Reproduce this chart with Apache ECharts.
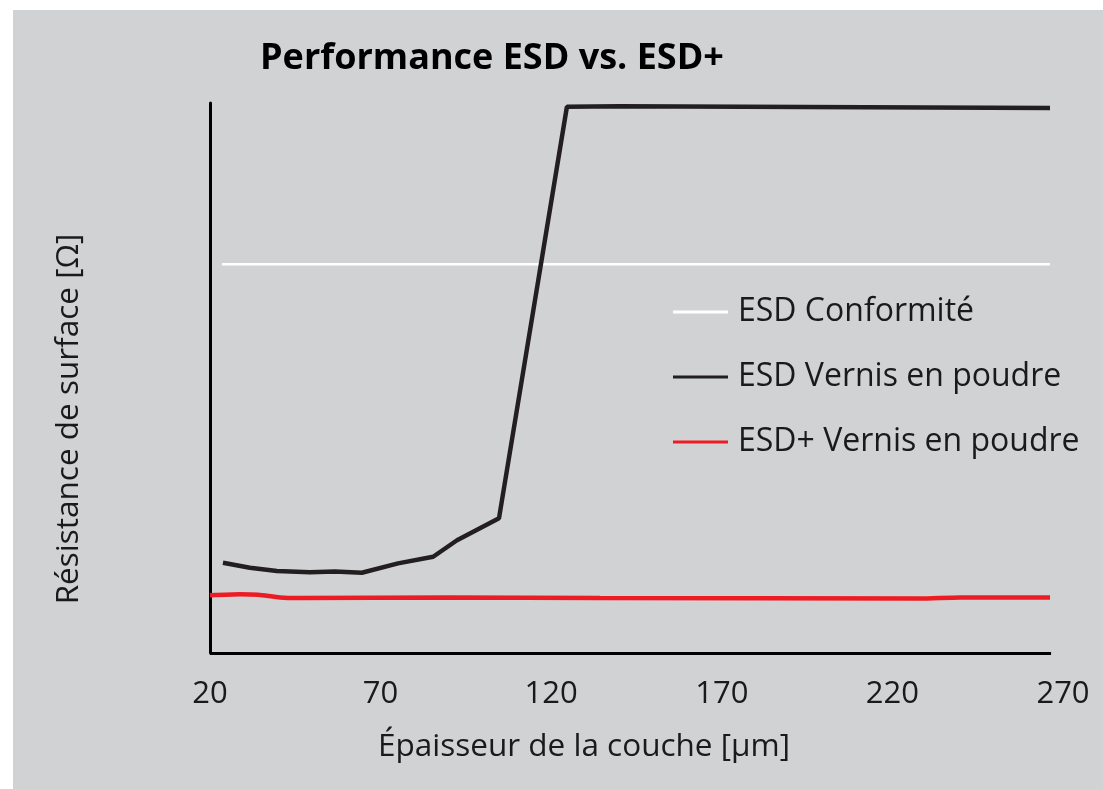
<!DOCTYPE html>
<html>
<head>
<meta charset="utf-8">
<script src="https://cdn.jsdelivr.net/npm/echarts@6/dist/echarts.min.js"></script>
<style>
  html, body { margin: 0; padding: 0; background: #ffffff; }
  #chart { position: absolute; left: 13px; top: 10px; width: 1090px; height: 779px; background: #d1d2d3; }
</style>
</head>
<body>
<div id="chart"></div>
<script>
// épaisseur [µm] / résistance (échelle relative, 0-100)
var seriesNames = ['ESD Conformité', 'ESD Vernis en poudre', 'ESD+ Vernis en poudre'];
var xTicks = [20, 70, 120, 170, 220, 270];

var conformX = [23.5, 266.2];
var conformY = [70.7, 70.7];

var esdX = [23.8, 31.7, 39.6, 49.3, 56.6, 64.5, 75.1, 85.4, 92.4, 104.7, 124.6, 140.2, 266.2];
var esdY = [16.4, 15.5, 14.9, 14.7, 14.8, 14.6, 16.3, 17.5, 20.5, 24.5, 99.3, 99.4, 99.1];

var esdPlusX = [20, 28.8, 34.1, 40.5, 46.4, 90.3, 134.3, 228.1, 239.8, 266.2];
var esdPlusY = [10.5, 10.7, 10.6, 10.1, 10.0, 10.1, 10.0, 9.9, 10.1, 10.1];

var axisEnd = 266.5;

function pairs(xs, ys) {
	var out = [];
	for (var i = 0; i < xs.length; i++) out.push([xs[i], ys[i]]);
	return out;
}

var font = '"Open Sans", "Noto Sans", sans-serif';
var chart = echarts.init(document.getElementById('chart'));

var option = {
	backgroundColor: 'transparent',
	animation: false,
	title: {
		text: 'Performance ESD vs. ESD+',
		left: 247,
		top: 31,
		padding: 0,
		textStyle: { fontFamily: font, fontWeight: 'bold', fontSize: 36, color: '#000000' }
	},
	legend: {
		orient: 'vertical',
		left: 655,
		top: 281,
		itemWidth: 55,
		itemHeight: 3,
		itemGap: 33,
		icon: 'rect',
		data: seriesNames,
		textStyle: { fontFamily: font, fontSize: 32, color: '#1a1a1a', padding: [0, 0, 0, 5] }
	},
	grid: { left: 197, right: 40, top: 93, bottom: 136 },
	graphic: [
		{
			type: 'text', x: 571, y: 737,
			style: { text: 'Épaisseur de la couche [µm]', font: '31.5px ' + font, fill: '#1a1a1a', textAlign: 'center', textVerticalAlign: 'middle' }
		},
		{
			type: 'text', x: 56, y: 409, rotation: Math.PI / 2,
			style: { text: 'Résistance de surface [Ω]', font: '31.5px ' + font, fill: '#1a1a1a', textAlign: 'center', textVerticalAlign: 'middle' }
		}
	],
	xAxis: {
		type: 'value',
		min: xTicks[0],
		max: xTicks[xTicks.length - 1],
		interval: 50,
		axisLine: { show: false },
		axisTick: { show: false },
		splitLine: { show: false },
		axisLabel: { margin: 26, fontFamily: font, fontSize: 31, color: '#1a1a1a' }
	},
	yAxis: {
		type: 'value',
		min: 0,
		max: 100,
		axisLine: { show: true, lineStyle: { color: '#000000', width: 3 } },
		axisTick: { show: false },
		axisLabel: { show: false },
		splitLine: { show: false }
	},
	series: [
		{
			name: seriesNames[0], type: 'line', showSymbol: false,
			color: '#ffffff', lineStyle: { color: '#ffffff', width: 2.5 },
			data: pairs(conformX, conformY),
			markLine: {
				silent: true, symbol: 'none', label: { show: false },
				lineStyle: { color: '#000000', width: 3, type: 'solid' },
				data: [[{ coord: [xTicks[0], 0] }, { coord: [axisEnd, 0] }]]
			}
		},
		{
			name: seriesNames[1], type: 'line', showSymbol: false,
			color: '#231f20', lineStyle: { color: '#231f20', width: 4.5 },
			data: pairs(esdX, esdY)
		},
		{
			name: seriesNames[2], type: 'line', showSymbol: false, smooth: 0.2,
			color: '#ed1c24', lineStyle: { color: '#ed1c24', width: 4.5 },
			data: pairs(esdPlusX, esdPlusY)
		}
	]
};

chart.setOption(option);
window.onresize = function () { chart.resize(); };
</script>
</body>
</html>
